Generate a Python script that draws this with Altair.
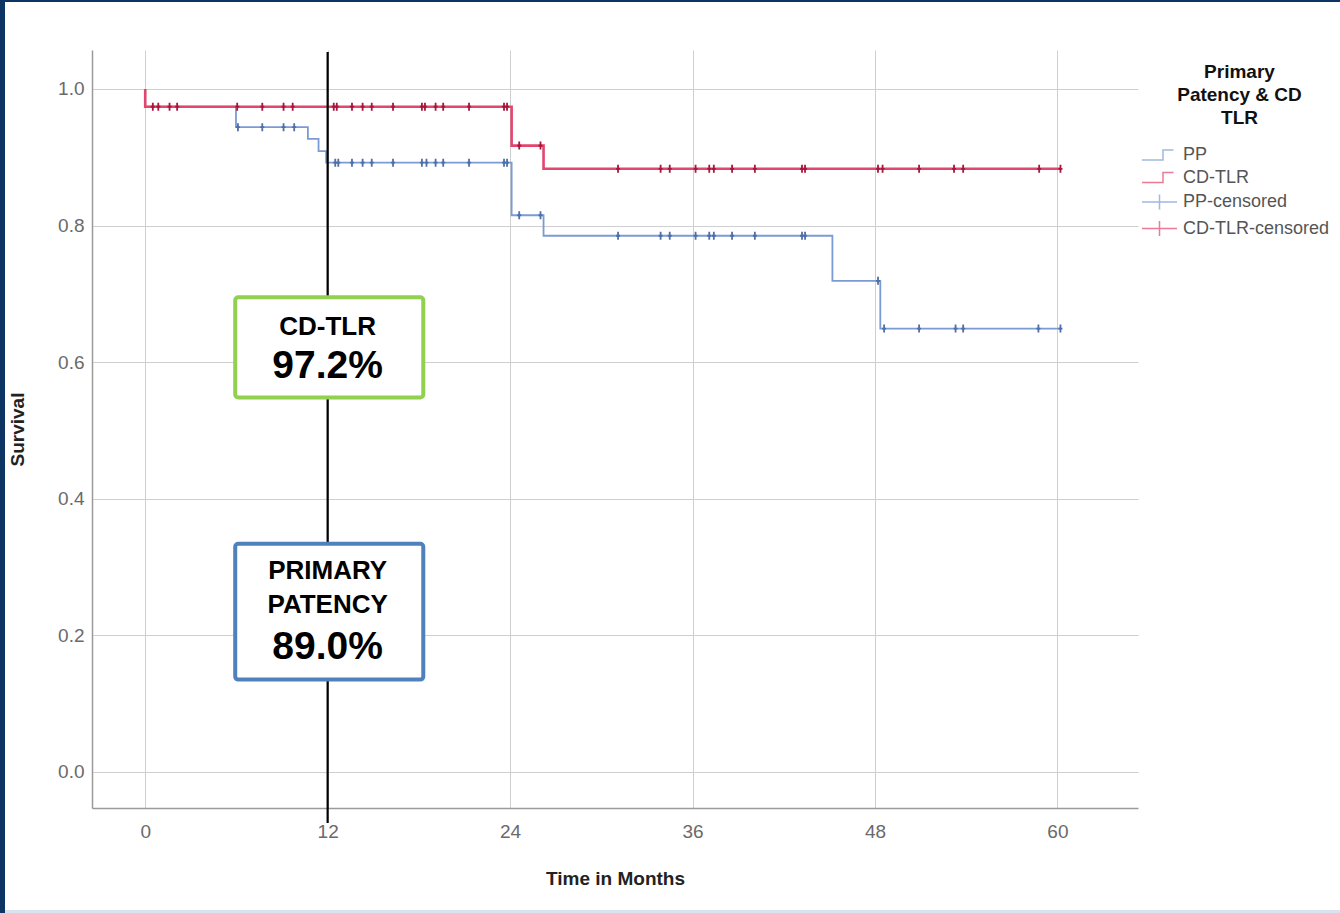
import altair as alt
import pandas as pd

# ---- Kaplan-Meier step curves (time in months, survival) ----
pp_time = [0, 0, 5.97, 10.7, 11.4, 11.9, 24.1, 26.2, 45.2, 48.35, 60.2]
pp_surv = [1.0, 0.974, 0.944, 0.927, 0.909, 0.892, 0.815, 0.785, 0.719, 0.649, 0.649]
cd_time = [0, 0, 24.1, 26.2, 60.2]
cd_surv = [1.0, 0.974, 0.917, 0.883, 0.883]

# ---- censored observations (months) ----
pp_censored = [6.1, 7.7, 9.1, 9.8,
               12.5, 12.7, 13.6, 14.3, 14.9, 16.3, 18.2, 18.5, 19.1, 19.6, 21.3, 23.6, 23.8,
               24.6, 26.0,
               31.1, 33.9, 34.5, 36.2, 37.1, 37.4, 38.6, 40.1, 43.2, 43.4,
               48.2,
               48.6, 50.9, 53.3, 53.8, 58.75, 60.2]
cd_censored = [0.5, 0.86, 1.6, 2.1, 6.05, 7.7, 9.1, 9.7, 12.4, 12.6, 13.6, 14.3, 14.9,
               16.3, 18.2, 18.4, 19.1, 19.6, 21.3, 23.6, 23.8,
               24.6, 26.0,
               31.1, 33.9, 34.5, 36.2, 37.1, 37.4, 38.6, 40.1, 43.2, 43.4, 48.2, 48.5,
               50.9, 53.2, 53.8, 58.8, 60.2]

legend_items = ["PP", "CD-TLR", "PP-censored", "CD-TLR-censored"]
x_ticks = [0, 12, 24, 36, 48, 60]
y_ticks = [0.0, 0.2, 0.4, 0.6, 0.8, 1.0]

# ---- annotation ----
marker_month = 12
box_labels = ["CD-TLR", "PRIMARY PATENCY"]
box_x0 = [5.92, 5.92]
box_x1 = [18.29, 18.29]
box_y0 = [0.695, 0.334]
box_y1 = [0.548, 0.135]
text_lines = ["CD-TLR", "97.2%", "PRIMARY", "PATENCY", "89.0%"]
text_y = [0.652, 0.594, 0.294, 0.245, 0.183]
text_size = [26, 39, 26, 26, 39]

BLUE = "#7b9bd4"
BLUE_MARK = "#4f6fa8"
RED = "#e2456d"
RED_MARK = "#a8163c"
FONT = "Liberation Sans"


def surv_at(times, survs, t):
    s = survs[0]
    for ti, si in zip(times, survs):
        if ti <= t:
            s = si
    return s


pp_df = pd.DataFrame({"t": pp_time, "s": pp_surv})
cd_df = pd.DataFrame({"t": cd_time, "s": cd_surv})
ppc_df = pd.DataFrame({"t": pp_censored, "s": [surv_at(pp_time, pp_surv, t) for t in pp_censored]})
cdc_df = pd.DataFrame({"t": cd_censored, "s": [surv_at(cd_time, cd_surv, t) for t in cd_censored]})
box_df = pd.DataFrame({"label": box_labels, "x0": box_x0, "x1": box_x1, "y0": box_y0, "y1": box_y1})
txt_df = pd.DataFrame({"txt": text_lines, "y": text_y, "size": text_size, "x": [marker_month] * 5})
leg_df = pd.DataFrame({"item": legend_items})

xs = alt.Scale(domain=[-3.5, 65.3], nice=False, zero=False)
ys = alt.Scale(domain=[-0.053, 1.057], nice=False, zero=False)

X = alt.X("t:Q", scale=xs, title="Time in Months",
          axis=alt.Axis(values=x_ticks, format="d"))
Y = alt.Y("s:Q", scale=ys, title="Survival",
          axis=alt.Axis(values=y_ticks, format=".1f"))

pp_line = alt.Chart(pp_df).mark_line(interpolate="step-after", color=BLUE, strokeWidth=1.8).encode(x=X, y=Y)
cd_line = alt.Chart(cd_df).mark_line(interpolate="step-after", color=RED, strokeWidth=2.6).encode(x=X, y=Y)

cens_shape = "M0,-1V1M-0.5,0H0.5"
pp_cens = alt.Chart(ppc_df).mark_point(shape=cens_shape, filled=False, size=64, strokeWidth=1.8,
                                       color=BLUE_MARK, opacity=1).encode(x=X, y=Y)
cd_cens = alt.Chart(cdc_df).mark_point(shape=cens_shape, filled=False, size=64, strokeWidth=1.8,
                                       color=RED_MARK, opacity=1).encode(x=X, y=Y)

rule = alt.Chart(pd.DataFrame({"t": [marker_month], "top": [1.054], "bot": [-0.075]})).mark_rule(
    color="black", strokeWidth=2.2).encode(
    x=alt.X("t:Q", scale=xs), y=alt.Y("top:Q", scale=ys), y2="bot:Q")

boxes = alt.Chart(box_df).mark_rect(fill="white", strokeWidth=4, cornerRadius=3).encode(
    x=alt.X("x0:Q", scale=xs), x2="x1:Q",
    y=alt.Y("y0:Q", scale=ys), y2="y1:Q",
    stroke=alt.Stroke("label:N", scale=alt.Scale(domain=box_labels, range=["#92d050", "#4f81bd"]), legend=None))

texts = alt.Chart(txt_df).mark_text(font=FONT, fontWeight="bold", color="black", baseline="middle",
                                     align="center").encode(
    x=alt.X("x:Q", scale=xs), y=alt.Y("y:Q", scale=ys), text="txt:N",
    size=alt.Size("size:Q", scale=None, legend=None))

# legend symbols: unit scale = sqrt(size)/2 = 5 px
step_path = "M-3.5,1H0.7V-1H2.8"
cens_path = "M-3.5,0H3.5M0,-1.5V1.5"
legend_layer = alt.Chart(leg_df).mark_point(filled=False, size=100, strokeWidth=1.5).encode(
    x=alt.value(-3000), y=alt.value(-3000),
    color=alt.Color("item:N", scale=alt.Scale(domain=legend_items,
                                              range=[BLUE, RED, BLUE, RED]),
                    legend=alt.Legend(title=["Primary", "Patency & CD", "TLR"], orient="none",
                                      legendX=1058.5, legendY=13)),
    shape=alt.Shape("item:N", scale=alt.Scale(domain=legend_items,
                                              range=[step_path, step_path, cens_path, cens_path])))

frame_src = alt.Data(values=[{"k": 1}])
left_strip = alt.Chart(frame_src).mark_rect(color="#0c3563").encode(
    x=alt.value(-92), x2=alt.value(-87), y=alt.value(-50), y2=alt.value(863))
top_strip = alt.Chart(frame_src).mark_rect(color="#0c3563").encode(
    x=alt.value(-92), x2=alt.value(1248), y=alt.value(-50), y2=alt.value(-48))
bottom_strip = alt.Chart(frame_src).mark_rect(color="#d9e3ef").encode(
    x=alt.value(-87), x2=alt.value(1248), y=alt.value(860), y2=alt.value(863))

chart = alt.layer(
    pp_line, cd_line, pp_cens, cd_cens, rule, boxes, texts, legend_layer,
    left_strip, top_strip, bottom_strip
).properties(
    width=1046, height=758,
    autosize=alt.AutoSizeParams(type="none"),
    padding={"left": 92, "top": 50, "right": 202, "bottom": 105},
    background="white",
).configure(font=FONT).configure_view(stroke=None).configure_axis(
    grid=True, gridColor="#cfcfcf", gridWidth=1,
    domainColor="#9a9a9a", domainWidth=1.5, ticks=False,
    labelFont=FONT, labelFontSize=19, labelColor="#6a6a6a",
    titleFont=FONT, titleFontSize=19, titleFontWeight="bold", titleColor="#222222",
).configure_axisX(labelPadding=14, titlePadding=28).configure_axisY(
    labelPadding=8, titlePadding=30).configure_legend(
    titleFont=FONT, titleFontSize=19, titleFontWeight="bold", titleColor="#111111",
    titleAlign="center", titleAnchor="middle", titleLineHeight=23, titlePadding=18,
    labelFont=FONT, labelFontSize=18, labelColor="#555555", labelOffset=14.5,
    rowPadding=4.5, symbolStrokeWidth=1.5, symbolSize=100,
)

chart.save("out.html", embed_options={"renderer": "svg", "actions": False})
